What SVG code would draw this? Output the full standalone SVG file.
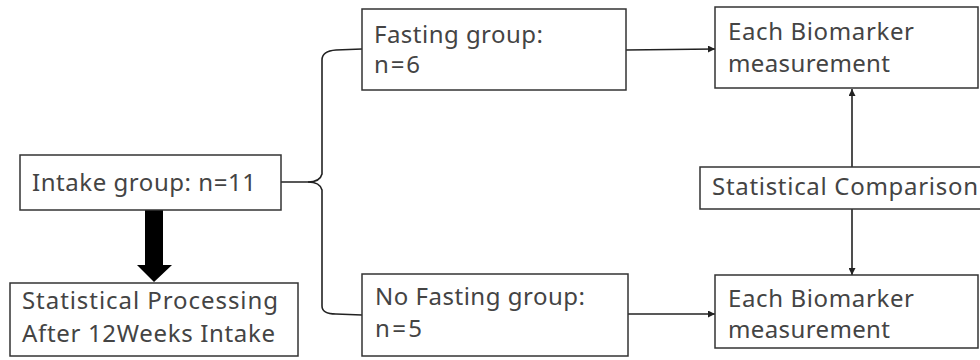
<svg xmlns="http://www.w3.org/2000/svg" width="980" height="360" viewBox="0 0 980 360">
<style>
.box{fill:#fff;stroke:#333;stroke-width:1.5}
.t{font-family:"Noto Sans","DejaVu Sans",sans-serif;font-size:24px;fill:#444}
.ln{fill:none;stroke:#222;stroke-width:1.6}
</style>
<defs>
<marker id="ah" viewBox="0 0 10 10" refX="10" refY="5" markerWidth="8" markerHeight="7" markerUnits="userSpaceOnUse" orient="auto">
<path d="M0,0 L10,5 L0,10 Z" fill="#222"/>
</marker>
</defs>
<rect width="980" height="360" fill="#fff"/>
<g id="connectors">
<path class="ln" d="M281,182 L308,182 Q320,182 322,174 L322,60 Q322,51 336,50 L362,49"/>
<path class="ln" d="M308,182 Q320,182 322,190 L322,306 Q322,314 336,314 L362,315"/>
<path class="ln" d="M626,50 L715,49" marker-end="url(#ah)"/>
<path class="ln" d="M628,314 L715,314" marker-end="url(#ah)"/>
<path class="ln" d="M852,167 L852,89" marker-end="url(#ah)"/>
<path class="ln" d="M852,209 L852,275" marker-end="url(#ah)"/>
<path d="M145,210 L163,210 L163,265 L172,265 L154,282 L137,265 L145,265 Z" fill="#000"/>
</g>
<g id="intake">
<rect class="box" x="20" y="155" width="261" height="55"/>
<text class="t" x="32" y="191" textLength="224" lengthAdjust="spacing">Intake group: n=11</text>
</g>
<g id="processing">
<rect class="box" x="10" y="283" width="288" height="73"/>
<text class="t" x="22" y="309" textLength="256" lengthAdjust="spacing">Statistical Processing</text>
<text class="t" x="22" y="342" textLength="253" lengthAdjust="spacing">After 12Weeks Intake</text>
</g>
<g id="fasting">
<rect class="box" x="362" y="9" width="264" height="81"/>
<text class="t" x="374" y="43" textLength="169" lengthAdjust="spacing">Fasting group:</text>
<text class="t" x="374" y="73" textLength="46" lengthAdjust="spacing">n=6</text>
</g>
<g id="nofasting">
<rect class="box" x="362" y="274" width="266" height="82"/>
<text class="t" x="375" y="305" textLength="210" lengthAdjust="spacing">No Fasting group:</text>
<text class="t" x="375" y="337" textLength="47" lengthAdjust="spacing">n=5</text>
</g>
<g id="biomarker1">
<rect class="box" x="715" y="7" width="263" height="81"/>
<text class="t" x="728" y="40" textLength="186" lengthAdjust="spacing">Each Biomarker</text>
<text class="t" x="728" y="72" textLength="162" lengthAdjust="spacing">measurement</text>
</g>
<g id="comparison">
<rect class="box" x="700" y="167" width="290" height="42"/>
<text class="t" x="712" y="195" textLength="266" lengthAdjust="spacing">Statistical Comparison</text>
</g>
<g id="biomarker2">
<rect class="box" x="715" y="275" width="263" height="73"/>
<text class="t" x="728" y="307" textLength="186" lengthAdjust="spacing">Each Biomarker</text>
<text class="t" x="728" y="338" textLength="162" lengthAdjust="spacing">measurement</text>
</g>
</svg>
